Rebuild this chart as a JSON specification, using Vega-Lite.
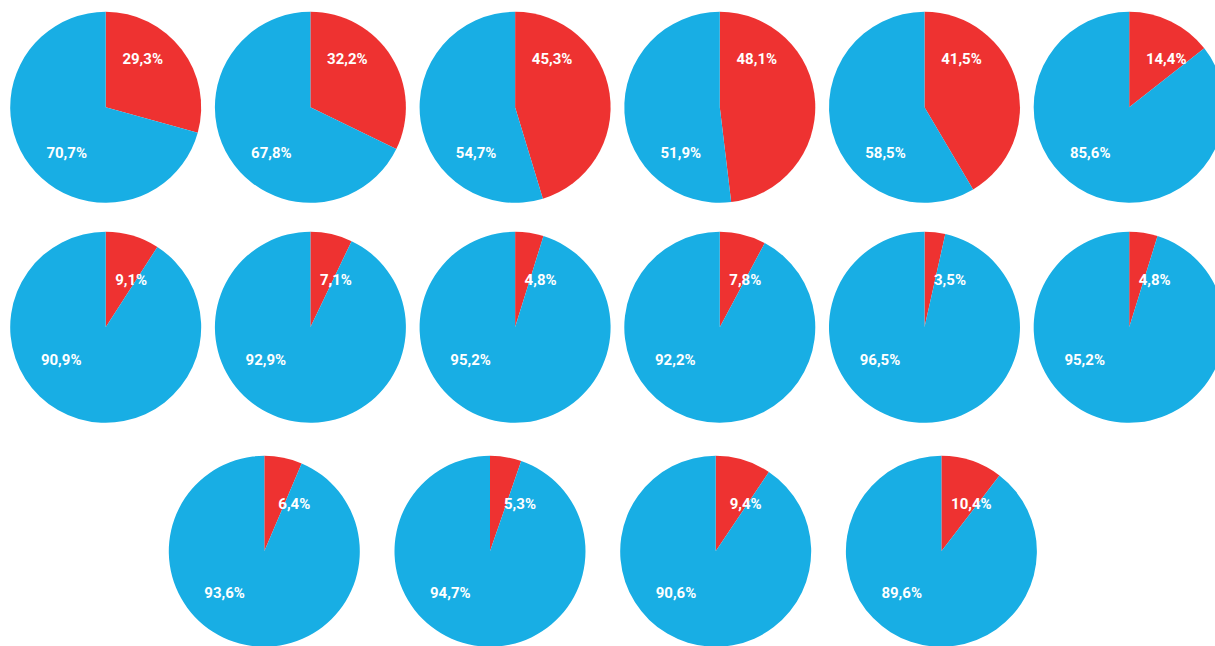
{
  "$schema": "https://vega.github.io/schema/vega-lite/v6.json",
  "padding": {"left": 10.2, "top": 11.8, "right": 0, "bottom": 0},
  "autosize": {"type": "pad"},
  "background": "white",
  "config": {
    "view": {"stroke": null},
    "locale": {"number": {"decimal": ",", "thousands": ".", "grouping": [3], "currency": ["", " €"]}},
    "text": {"font": "Roboto", "fontSize": 15, "fontWeight": "bold", "color": "white", "align": "center", "baseline": "middle"},
    "arc": {"stroke": null}
  },
  "data": {
    "values": [
      {"pie": 1, "group": "A", "value": 0.293}, {"pie": 1, "group": "B", "value": 0.707},
      {"pie": 2, "group": "A", "value": 0.322}, {"pie": 2, "group": "B", "value": 0.678},
      {"pie": 3, "group": "A", "value": 0.453}, {"pie": 3, "group": "B", "value": 0.547},
      {"pie": 4, "group": "A", "value": 0.481}, {"pie": 4, "group": "B", "value": 0.519},
      {"pie": 5, "group": "A", "value": 0.415}, {"pie": 5, "group": "B", "value": 0.585},
      {"pie": 6, "group": "A", "value": 0.144}, {"pie": 6, "group": "B", "value": 0.856},
      {"pie": 7, "group": "A", "value": 0.091}, {"pie": 7, "group": "B", "value": 0.909},
      {"pie": 8, "group": "A", "value": 0.071}, {"pie": 8, "group": "B", "value": 0.929},
      {"pie": 9, "group": "A", "value": 0.048}, {"pie": 9, "group": "B", "value": 0.952},
      {"pie": 10, "group": "A", "value": 0.078}, {"pie": 10, "group": "B", "value": 0.922},
      {"pie": 11, "group": "A", "value": 0.035}, {"pie": 11, "group": "B", "value": 0.965},
      {"pie": 12, "group": "A", "value": 0.048}, {"pie": 12, "group": "B", "value": 0.952},
      {"pie": 13, "group": "A", "value": 0.064}, {"pie": 13, "group": "B", "value": 0.936},
      {"pie": 14, "group": "A", "value": 0.053}, {"pie": 14, "group": "B", "value": 0.947},
      {"pie": 15, "group": "A", "value": 0.094}, {"pie": 15, "group": "B", "value": 0.906},
      {"pie": 16, "group": "A", "value": 0.104}, {"pie": 16, "group": "B", "value": 0.896}
    ]
  },
  "spacing": 33,
  "vconcat": [
    {
      "spacing": 29,
      "vconcat": [
        {
          "transform": [{"filter": "datum.pie <= 6"}],
          "facet": {"column": {"field": "pie", "type": "ordinal", "header": null}},
          "spacing": 13.7,
          "spec": {
            "width": 191, "height": 191,
            "layer": [
              {"mark": {"type": "arc"}, "encoding": {"theta": {"field": "value", "type": "quantitative", "stack": true}, "color": {"field": "group", "type": "nominal", "scale": {"domain": ["A", "B"], "range": ["#EE3231", "#18AEE4"]}, "legend": null}}},
              {"transform": [{"filter": "datum.group === 'A'"}], "mark": {"type": "text", "dx": 37, "dy": -48}, "encoding": {"text": {"field": "value", "type": "quantitative", "format": ".1%"}}},
              {"transform": [{"filter": "datum.group === 'B'"}], "mark": {"type": "text", "dx": -39, "dy": 46}, "encoding": {"text": {"field": "value", "type": "quantitative", "format": ".1%"}}}
            ]
          }
        },
        {
          "transform": [{"filter": "datum.pie > 6 && datum.pie <= 12"}],
          "facet": {"column": {"field": "pie", "type": "ordinal", "header": null}},
          "spacing": 13.7,
          "spec": {
            "width": 191, "height": 191,
            "layer": [
              {"mark": {"type": "arc"}, "encoding": {"theta": {"field": "value", "type": "quantitative", "stack": true}, "color": {"field": "group", "type": "nominal", "scale": {"domain": ["A", "B"], "range": ["#EE3231", "#18AEE4"]}, "legend": null}}},
              {"transform": [{"filter": "datum.group === 'A'"}], "mark": {"type": "text", "dx": 25.5, "dy": -47}, "encoding": {"text": {"field": "value", "type": "quantitative", "format": ".1%"}}},
              {"transform": [{"filter": "datum.group === 'B'"}], "mark": {"type": "text", "dx": -44.5, "dy": 33}, "encoding": {"text": {"field": "value", "type": "quantitative", "format": ".1%"}}}
            ]
          }
        }
      ]
    },
    {
      "spacing": 157.6,
      "hconcat": [
        {"width": 1, "height": 191, "data": {"values": []}, "mark": "point", "encoding": {}},
        {
          "transform": [{"filter": "datum.pie > 12"}],
          "facet": {"column": {"field": "pie", "type": "ordinal", "header": null}},
          "spacing": 34.7,
          "spec": {
            "width": 191, "height": 191,
            "layer": [
              {"mark": {"type": "arc"}, "encoding": {"theta": {"field": "value", "type": "quantitative", "stack": true}, "color": {"field": "group", "type": "nominal", "scale": {"domain": ["A", "B"], "range": ["#EE3231", "#18AEE4"]}, "legend": null}}},
              {"transform": [{"filter": "datum.group === 'A'"}], "mark": {"type": "text", "dx": 30, "dy": -47}, "encoding": {"text": {"field": "value", "type": "quantitative", "format": ".1%"}}},
              {"transform": [{"filter": "datum.group === 'B'"}], "mark": {"type": "text", "dx": -39.7, "dy": 42}, "encoding": {"text": {"field": "value", "type": "quantitative", "format": ".1%"}}}
            ]
          }
        }
      ]
    }
  ]
}
